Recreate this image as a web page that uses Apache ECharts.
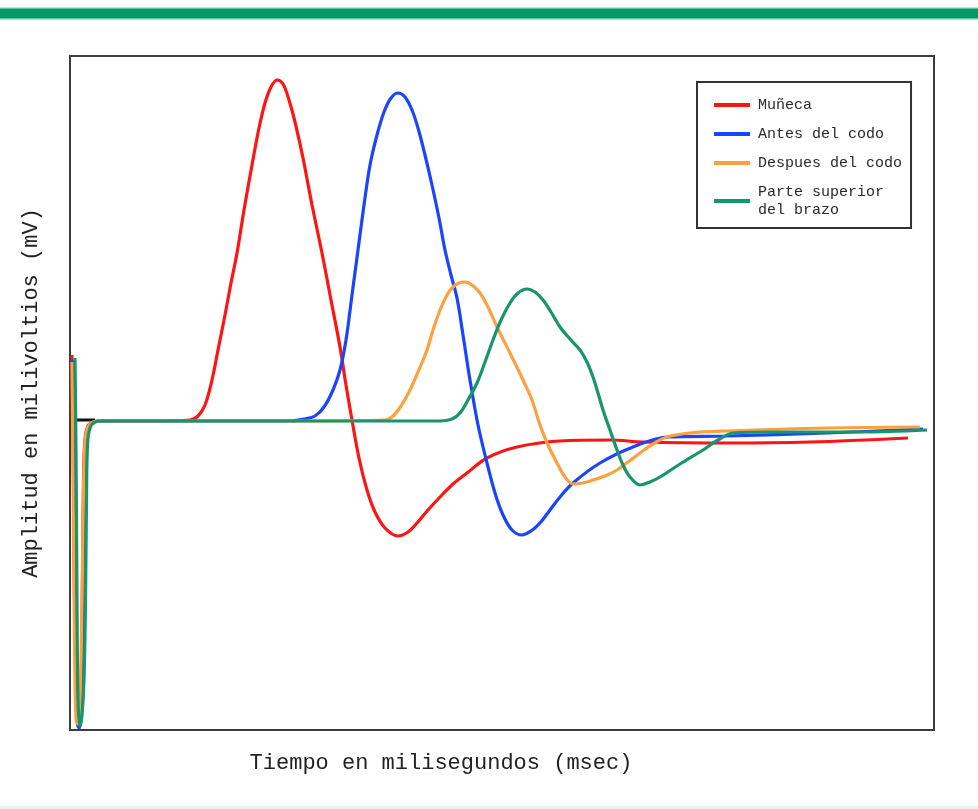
<!DOCTYPE html>
<html>
<head>
<meta charset="utf-8">
<script src="https://cdn.jsdelivr.net/npm/echarts@6/dist/echarts.min.js"></script>
<style>
  html, body { margin: 0; padding: 0; background: #ffffff; }
  #chart { width: 978px; height: 809px; }
</style>
</head>
<body>
<div id="chart"></div>
<script>
// Nerve conduction recordings: amplitude (arbitrary mV units) against time (arbitrary msec units)
const seriesNames = ['Muñeca', 'Antes del codo', 'Despues del codo', 'Parte superior\ndel brazo'];

const munecaT = [0.2, 0.35, 0.5, 0.7, 0.9, 1.1, 1.25, 1.35, 1.5, 1.8, 2.3, 3.0, 8, 12.0, 12.8, 13.5, 14.2, 14.8, 15.5, 16.1, 16.7, 17.4, 18.2, 18.9, 19.5, 20.1, 20.7, 21.3, 21.9, 22.5, 23.3, 24.2, 25.2, 26.1, 27.0, 27.6, 28.2, 28.9, 29.7, 30.5, 31.5, 32.8, 33.8, 34.7, 35.8, 37.0, 38.3, 39.7, 41.7, 44.7, 49.0, 54.0, 57.3, 65.7, 74.0, 83.8];
const munecaV = [6.6, -5.9, -21.9, -29.1, -30.1, -26.9, -15.9, -5.9, -1.9, -0.5, -0.1, 0, 0, 0.1, 0.5, 1.6, 4.1, 7.1, 10.6, 13.8, 16.8, 21.1, 25.6, 29.3, 31.8, 33.4, 34.1, 33.7, 32.1, 29.9, 26.3, 21.6, 16.8, 12.1, 7.4, 3.6, 0.1, -3.7, -6.9, -9.1, -10.7, -11.5, -11.1, -10.2, -8.9, -7.6, -6.3, -5.2, -3.7, -2.6, -2.0, -1.9, -2.1, -2.2, -2.1, -1.7];

const antesT = [0.3, 0.45, 0.6, 0.75, 0.95, 1.15, 1.3, 1.45, 1.6, 1.9, 2.4, 3.1, 8, 18, 22, 23.5, 24.5, 25.4, 26.3, 27.0, 27.6, 28.2, 28.8, 29.4, 30.0, 30.7, 31.4, 32.1, 32.8, 33.5, 34.2, 34.8, 35.5, 36.2, 36.9, 37.5, 38.1, 38.7, 39.3, 40.0, 40.8, 41.7, 42.5, 43.3, 44.2, 45.2, 46.1, 47.0, 48.0, 49.0, 50.3, 53.0, 56.3, 59.7, 65.7, 75.7, 85.3];
const antesV = [6.1, -7.9, -25.9, -30.4, -30.7, -27.9, -17.9, -6.9, -2.4, -0.7, -0.1, 0, 0, 0, 0, 0.2, 0.5, 1.4, 3.1, 5.1, 8.1, 12.6, 17.1, 21.6, 25.6, 28.6, 30.9, 32.3, 32.8, 32.4, 31.1, 29.3, 26.6, 23.6, 20.3, 17.1, 14.6, 12.3, 8.6, 4.1, -0.4, -4.2, -7.2, -9.4, -10.9, -11.4, -11.0, -10.2, -8.9, -7.6, -6.2, -4.2, -2.6, -1.6, -1.5, -1.2, -0.8];

const despuesT = [0.2, 0.3, 0.45, 0.6, 0.8, 1.0, 1.2, 1.35, 1.5, 1.8, 2.3, 3.0, 23, 31.5, 32.3, 33.1, 34.0, 34.8, 35.7, 36.3, 37.0, 37.7, 38.3, 38.9, 39.5, 40.2, 41.0, 41.8, 42.7, 44.0, 45.3, 46.2, 47.0, 47.8, 48.7, 49.5, 50.3, 51.3, 52.3, 53.5, 54.7, 55.8, 57.0, 58.3, 59.7, 62.0, 65.7, 75.7, 85.0];
const despuesV = [5.9, -4.9, -21.9, -29.9, -30.3, -27.9, -17.9, -6.9, -2.1, -0.6, -0.1, 0, 0, 0.1, 0.5, 1.5, 3.1, 4.9, 7.1, 9.1, 11.1, 12.6, 13.4, 13.8, 13.9, 13.6, 12.8, 11.4, 9.4, 6.8, 4.1, 2.1, -0.4, -2.4, -4.2, -5.6, -6.3, -6.2, -5.9, -5.5, -4.9, -4.1, -3.2, -2.3, -1.6, -1.2, -1.0, -0.7, -0.6];

const brazoT = [0.5, 0.6, 0.7, 0.8, 1.0, 1.2, 1.4, 1.55, 1.65, 1.75, 2.0, 2.5, 3.2, 37.0, 38.2, 39.0, 39.8, 40.7, 41.5, 42.3, 43.1, 44.0, 44.8, 45.7, 46.5, 47.3, 48.1, 49.0, 50.0, 51.0, 51.7, 52.3, 52.8, 53.3, 54.0, 54.7, 55.3, 56.0, 57.0, 58.0, 59.0, 61.0, 63.3, 64.8, 66.3, 70.7, 79.0, 85.7];
const brazoV = [6.3, -2.9, -17.9, -27.9, -30.5, -29.4, -25.9, -17.9, -7.9, -2.4, -0.7, -0.1, 0, 0, 0.2, 0.8, 2.1, 3.8, 5.9, 8.1, 10.1, 11.8, 12.8, 13.2, 12.9, 12.1, 10.9, 9.4, 8.2, 7.1, 5.9, 4.4, 2.8, 1.1, -0.9, -2.9, -4.4, -5.6, -6.4, -6.1, -5.6, -4.3, -2.9, -1.9, -1.2, -1.1, -1.1, -0.9];

// short reference segment on the baseline at the stimulus
const markerT = [0.3, 2.5];
const markerV = [0.1, 0.1];

const seriesT = [munecaT, antesT, despuesT, brazoT];
const seriesV = [munecaV, antesV, despuesV, brazoV];
const seriesColors = ['#ff1414', '#1a44ff', '#ffa040', '#17966b'];

const xMin = 0, xMax = 86.4;
const yMin = -30.9, yMax = 36.5;

const FONT = '"Liberation Mono", "DejaVu Sans Mono", monospace';

function pairs(t, v) { return t.map((x, i) => [x, v[i]]); }

const chart = echarts.init(document.getElementById('chart'), null, { renderer: 'canvas' });

const lineSeries = seriesNames.map((name, i) => ({
  name: name,
  type: 'line',
  data: pairs(seriesT[i], seriesV[i]),
  smooth: 0.35,
  showSymbol: false,
  symbol: 'none',
  lineStyle: { color: seriesColors[i], width: 3.2 },
  itemStyle: { color: seriesColors[i] },
  z: 3 + i
}));

lineSeries.unshift({
  name: 'marker',
  type: 'line',
  data: pairs(markerT, markerV),
  showSymbol: false,
  symbol: 'none',
  lineStyle: { color: '#111111', width: 3 },
  z: 2
});

chart.setOption({
  animation: false,
  backgroundColor: '#ffffff',
  graphic: [
    { type: 'rect', shape: { x: 0, y: 7, width: 978, height: 13 }, style: { fill: '#bfe6d6' }, silent: true },
    { type: 'rect', shape: { x: 0, y: 8.5, width: 978, height: 10 }, style: { fill: '#009a66' }, silent: true },
    { type: 'rect', shape: { x: 0, y: 806, width: 978, height: 3 }, style: { fill: '#e2f5f0' }, silent: true }
  ],
  grid: {
    left: 70, top: 56, width: 864, height: 674,
    show: true,
    borderColor: '#3c3c3c',
    borderWidth: 2,
    backgroundColor: '#ffffff'
  },
  legend: {
    data: seriesNames,
    orient: 'vertical',
    left: 697, top: 82,
    padding: [14, 9, 9, 17],
    itemGap: 11,
    itemWidth: 36,
    itemHeight: 4,
    icon: 'rect',
    backgroundColor: '#ffffff',
    borderColor: '#333333',
    borderWidth: 2,
    textStyle: { fontFamily: FONT, fontSize: 15, color: '#2a2a2a', lineHeight: 18, padding: [0, 0, 0, 3] }
  },
  xAxis: {
    type: 'value', min: xMin, max: xMax,
    name: 'Tiempo en milisegundos (msec)',
    nameLocation: 'middle', nameGap: 22,
    nameTextStyle: { fontFamily: FONT, fontSize: 22, color: '#222222', padding: [0, 122, 0, 0] },
    axisLine: { show: false }, axisTick: { show: false },
    axisLabel: { show: false }, splitLine: { show: false }
  },
  yAxis: {
    type: 'value', min: yMin, max: yMax,
    name: 'Amplitud en milivoltios (mV)',
    nameLocation: 'middle', nameGap: 28, nameRotate: 90,
    nameTextStyle: { fontFamily: FONT, fontSize: 22, color: '#222222' },
    axisLine: { show: false }, axisTick: { show: false },
    axisLabel: { show: false }, splitLine: { show: false }
  },
  series: lineSeries
});
</script>
</body>
</html>
